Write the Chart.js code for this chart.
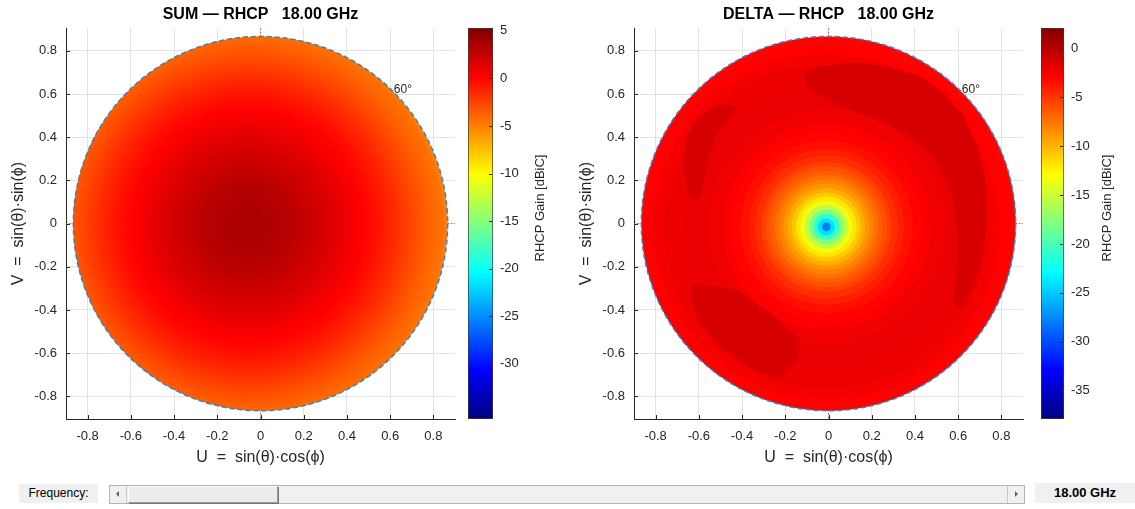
<!DOCTYPE html>
<html><head><meta charset="utf-8">
<script src="https://cdn.jsdelivr.net/npm/chart.js@4.4.1/dist/chart.umd.min.js"></script>
<style>
body{margin:0;background:#fff;width:1135px;height:509px;position:relative;overflow:hidden;font-family:'Liberation Sans',Arial,sans-serif;}
.c{position:absolute;top:0;}
.box{position:absolute;background:#f0f0f0;color:#000;text-align:center;}
#slider{position:absolute;left:109px;top:485px;width:916px;height:19px;background:#f0f0f0;border:1px solid #b4b4b4;box-sizing:border-box;}
.btn{position:absolute;top:0;width:17px;height:17px;background:#f0f0f0;border-right:1px solid #c8c8c8;box-sizing:border-box;}
.tri{position:absolute;top:5px;width:0;height:0;border-top:3px solid transparent;border-bottom:3px solid transparent;}
#thumb{position:absolute;left:18px;top:0;width:150px;height:17px;background:#ececec;border:1px solid #9a9a9a;border-top-color:#fff;border-left-color:#fff;box-sizing:border-box;box-shadow:1px 1px 0 #777;}
</style></head><body>
<div class="c" style="left:0;width:470px;height:475px"><canvas id="sum" width="470" height="475"></canvas></div>
<div class="c" style="left:468px;width:100px;height:475px"><canvas id="sumBar" width="100" height="475"></canvas></div>
<div class="c" style="left:568px;width:470px;height:475px"><canvas id="delta" width="470" height="475"></canvas></div>
<div class="c" style="left:1041px;width:94px;height:475px"><canvas id="deltaBar" width="94" height="475"></canvas></div>

<div class="box" style="left:19px;top:484px;width:79px;height:19px;font-size:12px;line-height:19px;">Frequency:</div>
<div id="slider">
  <div class="btn" style="left:0"><div class="tri" style="left:6px;border-right:3px solid #606060;"></div></div>
  <div id="thumb"></div>
  <div class="btn" style="right:0;border-right:none;border-left:1px solid #c8c8c8"><div class="tri" style="left:7px;border-left:3px solid #606060;"></div></div>
</div>
<div class="box" id="freqBox" style="left:1035px;top:483px;width:100px;height:20px;font-size:13px;font-weight:bold;line-height:20px;"></div>

<script>
// ---------------- data ----------------
const frequencyGHz = 18.00;
const horizonDeg = 60;
const uTicks = [-0.8, -0.6, -0.4, -0.2, 0, 0.2, 0.4, 0.6, 0.8];
const vTicks = [-0.8, -0.6, -0.4, -0.2, 0, 0.2, 0.4, 0.6, 0.8];
const sumCbarTicks = [5, 0, -5, -10, -15, -20, -25, -30];
const deltaCbarTicks = [0, -5, -10, -15, -20, -25, -30, -35];
const sumCbarRange = [-35.8, 5.3];
const deltaCbarRange = [-37.9, 2.1];

// SUM: gain (dBiC) read along radius from the beam peak
const sumPeakUV = [-0.06, -0.01];
const sumRadius = [0, 0.05, 0.10, 0.15, 0.20, 0.25, 0.30, 0.35, 0.40, 0.45, 0.50, 0.55, 0.60, 0.65, 0.70, 0.75, 0.80, 0.85, 0.90, 0.95];
const sumGain   = [3.7, 3.65, 3.5, 3.3, 3.1, 2.8, 2.4, 2.0, 1.6, 1.2, 0.7, 0.2, -0.3, -0.9, -1.5, -2.2, -2.9, -3.6, -4.2, -4.7];

// DELTA: gain (dBiC) read along radius from the null
const deltaNullUV = [-0.01, -0.015];
const deltaRadius = [0, 0.02, 0.04, 0.06, 0.08, 0.10, 0.12, 0.14, 0.16, 0.18, 0.20, 0.22, 0.24, 0.26, 0.28, 0.30, 0.33, 0.36, 0.40, 0.44, 0.48, 0.55, 0.65, 0.75, 0.80, 0.85, 0.90];
const deltaGain   = [-31, -28, -24, -21, -18, -15.5, -13.5, -12, -10.8, -9.7, -8.8, -8.0, -7.3, -6.6, -6.0, -5.4, -4.7, -4.1, -3.5, -3.0, -2.7, -2.3, -2.1, -2.2, -2.5, -2.9, -3.0];

// DELTA: regions of higher gain near the rim (contour outlines, U/V)
const deltaPatchGain = -1.3;
const deltaPatchUpperRight = [[-0.11,0.70],[-0.025,0.73],[0.115,0.746],[0.27,0.73],[0.42,0.684],[0.53,0.607],[0.625,0.50],[0.686,0.36],[0.725,0.205],[0.733,0.05],[0.717,-0.135],[0.67,-0.29],[0.61,-0.40],[0.578,-0.367],[0.594,-0.197],[0.594,-0.012],[0.57,0.143],[0.516,0.267],[0.44,0.36],[0.346,0.421],[0.254,0.468],[0.13,0.514],[0.022,0.56],[-0.056,0.60],[-0.102,0.64]];
const deltaPatchUpperLeft = [[-0.427,0.545],[-0.504,0.553],[-0.597,0.499],[-0.659,0.406],[-0.674,0.267],[-0.651,0.143],[-0.612,0.104],[-0.581,0.174],[-0.558,0.298],[-0.519,0.406],[-0.458,0.491]];
const deltaPatchLowerLeft = [[-0.628,-0.275],[-0.427,-0.305],[-0.272,-0.414],[-0.133,-0.537],[-0.148,-0.63],[-0.226,-0.723],[-0.349,-0.676],[-0.504,-0.568],[-0.597,-0.46],[-0.635,-0.352]];

// ---------------- helpers ----------------
const FONT = "'Liberation Sans', Arial, Helvetica, sans-serif";
const TXT = '#262626';
const jetStops = [[0,[0,0,128]],[0.125,[0,0,255]],[0.375,[0,255,255]],[0.625,[255,255,0]],[0.875,[255,0,0]],[1,[128,0,0]]];
function jet(val, range){
  let t = (val - range[0]) / (range[1] - range[0]);
  t = Math.max(0, Math.min(1, t));
  for (let i = 1; i < jetStops.length; i++) {
    if (t <= jetStops[i][0]) {
      const [t0, c0] = jetStops[i-1], [t1, c1] = jetStops[i];
      const f = (t - t0) / (t1 - t0);
      return 'rgb(' + c0.map((c,k) => Math.round(c + (c1[k]-c)*f)).join(',') + ')';
    }
  }
  return 'rgb(128,0,0)';
}
function pxLen(chart, d){
  const s = chart.scales && chart.scales.x;
  if (!s) return 0;
  const v = Math.abs(s.getPixelForValue(d) - s.getPixelForValue(0));
  return isFinite(v) ? v : 0;
}
function ringData(center, radii, gains){
  return radii.map((r,i) => ({x:center[0], y:center[1], rad:r, g:gains[i]})).sort((a,b) => b.rad - a.rad);
}
const fmtTick = v => (Math.abs(v) < 1e-9 ? '0' : (+v).toFixed(1));

const uvPlugin = {
  id: 'uvPlot',
  beforeDatasetsDraw(chart, args, opts){
    const {ctx, chartArea:a, scales:{x, y}} = chart;
    const x0 = x.getPixelForValue(0), y0 = y.getPixelForValue(0);
    ctx.save();
    ctx.strokeStyle = '#D95319'; ctx.lineWidth = 1; ctx.setLineDash([1.5, 2]);
    ctx.beginPath();
    ctx.moveTo(x0, a.top); ctx.lineTo(x0, a.bottom);
    ctx.moveTo(a.left, y0); ctx.lineTo(a.right, y0);
    ctx.stroke();
    ctx.restore();
    const R = pxLen(chart, Math.sin(horizonDeg * Math.PI / 180));
    ctx.save();
    ctx.beginPath(); ctx.arc(x0, y0, R, 0, 2*Math.PI); ctx.clip();
    if (opts.blur) ctx.filter = 'blur(' + opts.blur + 'px)';
  },
  afterDatasetsDraw(chart, args, opts){
    const {ctx, chartArea:a, scales:{x, y}} = chart;
    (opts.patches || []).forEach(p => {
      ctx.beginPath();
      p.pts.forEach((q, i) => {
        const px = x.getPixelForValue(q[0]), py = y.getPixelForValue(q[1]);
        if (i === 0) ctx.moveTo(px, py); else ctx.lineTo(px, py);
      });
      ctx.closePath();
      ctx.fillStyle = jet(p.g, opts.range);
      ctx.fill();
    });
    ctx.restore();
    const x0 = x.getPixelForValue(0), y0 = y.getPixelForValue(0);
    const rU = Math.sin(horizonDeg * Math.PI / 180);
    const R = pxLen(chart, rU);
    ctx.save();
    ctx.strokeStyle = '#2f86c8'; ctx.lineWidth = 1.5; ctx.setLineDash([5, 3]);
    ctx.beginPath(); ctx.arc(x0, y0, R, 0, 2*Math.PI); ctx.stroke();
    ctx.restore();
    const lu = rU * Math.cos(Math.PI/4), lv = rU * Math.sin(Math.PI/4);
    ctx.save();
    ctx.fillStyle = TXT; ctx.font = '12px ' + FONT; ctx.textAlign = 'left'; ctx.textBaseline = 'middle';
    ctx.fillText(horizonDeg + '°', x.getPixelForValue(lu) + 1, y.getPixelForValue(lv) - 2);
    ctx.restore();
    ctx.save();
    ctx.strokeStyle = TXT; ctx.lineWidth = 1;
    ctx.beginPath();
    uTicks.forEach(v => { const px = Math.round(x.getPixelForValue(v)) + 0.5; ctx.moveTo(px, a.bottom); ctx.lineTo(px, a.bottom - 4); });
    vTicks.forEach(v => { const py = Math.round(y.getPixelForValue(v)) + 0.5; ctx.moveTo(a.left, py); ctx.lineTo(a.left + 4, py); });
    ctx.stroke();
    ctx.restore();
  }
};

function makePlot(id, name, center, radii, gains, range, patches, blur){
  const ch = new Chart(document.getElementById(id), {
    type: 'scatter',
    data: { datasets: [{
      data: ringData(center, radii, gains),
      showLine: false,
      pointRadius: c => (c.raw ? pxLen(c.chart, c.raw.rad) : 0),
      pointHoverRadius: c => (c.raw ? pxLen(c.chart, c.raw.rad) : 0),
      pointBackgroundColor: c => (c.raw ? jet(c.raw.g, range) : '#000'),
      pointBorderWidth: 0,
      pointHoverBorderWidth: 0,
      clip: false
    }]},
    plugins: [uvPlugin],
    options: {
      responsive: false, animation: false, events: [],
      layout: { autoPadding: false, padding: { left: 0, right: 15, top: 0, bottom: 0 } },
      plugins: {
        legend: { display: false }, tooltip: { enabled: false },
        title: { display: true, fullSize: false, text: name + ' \u2014 RHCP   ' + frequencyGHz.toFixed(2) + ' GHz', color: '#000',
                 font: { size: 16, weight: 'bold', family: FONT }, padding: { top: 5, bottom: 4 } },
        uvPlot: { range: range, patches: patches, blur: blur }
      },
      scales: {
        x: { type: 'linear', min: -0.9, max: 0.9,
             afterBuildTicks: s => { s.ticks = uTicks.map(v => ({value: v})); },
             afterFit: s => { s.height = 56; },
             grid: { color: '#e3e3e3', drawTicks: false },
             border: { display: true, color: TXT, width: 1 },
             ticks: { padding: 10, color: TXT, font: { size: 13, family: FONT }, callback: v => fmtTick(v), maxRotation: 0 },
             title: { display: true, text: 'U  =  sin(\u03B8)\u00B7cos(\u03D5)', color: TXT, font: { size: 16, family: FONT }, padding: { top: 0, bottom: 8 } } },
        y: { type: 'linear', min: -0.905, max: 0.905,
             afterBuildTicks: s => { s.ticks = vTicks.map(v => ({value: v})); },
             afterFit: s => { s.width = 66; },
             grid: { color: '#e3e3e3', drawTicks: false },
             border: { display: true, color: TXT, width: 1 },
             ticks: { padding: 9, color: TXT, font: { size: 13, family: FONT }, callback: v => fmtTick(v) },
             title: { display: true, text: 'V  =  sin(\u03B8)\u00B7sin(\u03D5)', color: TXT, font: { size: 16, family: FONT }, padding: { top: 9, bottom: 0 } } }
      }
    }
  });
  ch.update();
  return ch;
}

const cbarPlugin = {
  id: 'cbarLabel',
  afterDraw(chart, args, opts){
    const {ctx, chartArea:a, scales:{y}} = chart;
    ctx.save();
    ctx.strokeStyle = TXT; ctx.lineWidth = 1;
    ctx.beginPath();
    opts.ticks.forEach(v => { const py = Math.round(y.getPixelForValue(v)) + 0.5; ctx.moveTo(a.right - 1, py); ctx.lineTo(a.right - 4, py); });
    ctx.stroke();
    ctx.translate(opts.labelX, opts.labelY);
    ctx.rotate(-Math.PI/2);
    ctx.fillStyle = TXT; ctx.font = '13px ' + FONT; ctx.textAlign = 'center'; ctx.textBaseline = 'middle';
    ctx.fillText('RHCP Gain [dBiC]', 0, 0);
    ctx.restore();
  }
};

function makeCbar(id, range, ticks, axisW, labelX){
  return new Chart(document.getElementById(id), {
    type: 'bar',
    data: { labels: [''], datasets: [{
      data: [[range[0], range[1]]],
      backgroundColor: c => {
        const {chart} = c;
        if (!chart.chartArea) return '#f00';
        const y = chart.scales.y;
        const g = chart.ctx.createLinearGradient(0, y.getPixelForValue(range[0]), 0, y.getPixelForValue(range[1]));
        jetStops.forEach(s => g.addColorStop(s[0], 'rgb(' + s[1].join(',') + ')'));
        return g;
      },
      borderColor: '#3a3a3a', borderWidth: 1, borderSkipped: false,
      barPercentage: 1, categoryPercentage: 1
    }]},
    plugins: [cbarPlugin],
    options: {
      responsive: false, animation: false, events: [],
      layout: { padding: { top: 28, bottom: 56, left: 0, right: 0 } },
      plugins: { legend: { display: false }, tooltip: { enabled: false },
                 cbarLabel: { ticks: ticks, labelX: labelX, labelY: 208 } },
      scales: {
        x: { display: false },
        y: { position: 'right', min: range[0], max: range[1],
             afterBuildTicks: s => { s.ticks = ticks.map(v => ({value: v})); },
             afterFit: s => { s.width = axisW; },
             grid: { display: false, drawTicks: false },
             border: { display: false },
             ticks: { padding: 7, color: TXT, font: { size: 13, family: FONT } } }
      }
    }
  });
}

makePlot('sum', 'SUM', sumPeakUV, sumRadius, sumGain, sumCbarRange, [], 5);
makePlot('delta', 'DELTA', deltaNullUV, deltaRadius, deltaGain, deltaCbarRange, [
  {g: deltaPatchGain, pts: deltaPatchUpperRight},
  {g: deltaPatchGain, pts: deltaPatchUpperLeft},
  {g: deltaPatchGain, pts: deltaPatchLowerLeft}
], 0);
makeCbar('sumBar', sumCbarRange, sumCbarTicks, 75, 72);
makeCbar('deltaBar', deltaCbarRange, deltaCbarTicks, 71, 66);
document.getElementById('freqBox').textContent = frequencyGHz.toFixed(2) + ' GHz';
</script>
</body></html>
